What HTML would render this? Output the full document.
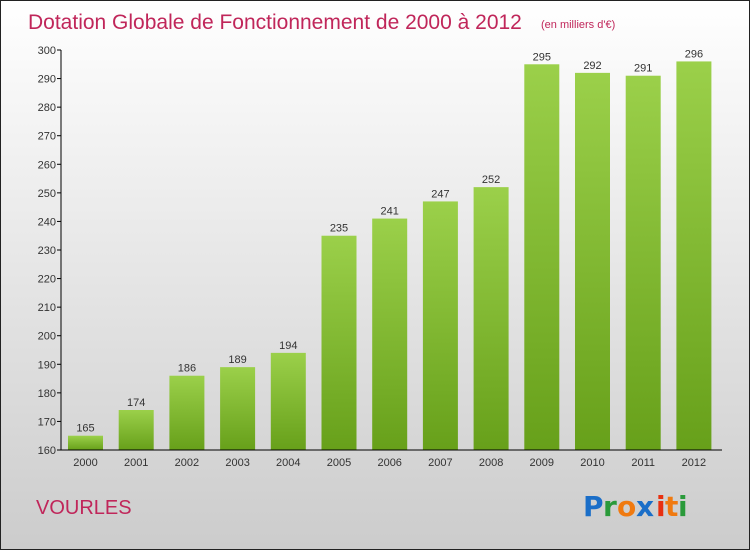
<!DOCTYPE html>
<html><head><meta charset="utf-8"><style>
html,body{margin:0;padding:0}
body{width:750px;height:550px;overflow:hidden;font-family:"Liberation Sans",sans-serif}
</style></head><body>
<svg id="c" width="750" height="550" xmlns="http://www.w3.org/2000/svg">
<defs>
<linearGradient id="bg" x1="0" y1="0" x2="0" y2="1"><stop offset="0" stop-color="#ffffff"/><stop offset="1" stop-color="#cccccc"/></linearGradient>
<linearGradient id="bar" x1="0" y1="0" x2="0" y2="1"><stop offset="0" stop-color="#9bd04a"/><stop offset="1" stop-color="#67a01a"/></linearGradient>
</defs>
<rect x="0.5" y="0.5" width="749" height="549" fill="url(#bg)" stroke="#222"/>
<text x="28" y="29" font-size="21" fill="#c0265a">Dotation Globale de Fonctionnement de 2000 à 2012</text>
<text x="541" y="28" font-size="11" fill="#c0265a">(en milliers d'€)</text>
<text x="36" y="514" font-size="20" fill="#c0265a">VOURLES</text>
<g font-size="28" font-weight="bold" font-family="'DejaVu Sans',sans-serif">
<text x="583" y="516" fill="#1a6ec8">P</text><text x="603" y="516" fill="#2a9a3a">r</text><text x="617" y="516" fill="#f07a10">o</text><text x="636" y="516" fill="#1a6ec8">x</text><text x="656" y="516" fill="#e83010">i</text><text x="665" y="516" fill="#f07a10">t</text><text x="678" y="516" fill="#2a9a3a">i</text>
</g>
<g id="plot"></g>
</svg>
<script>
const years=["2000","2001","2002","2003","2004","2005","2006","2007","2008","2009","2010","2011","2012"];
const values=[165,174,186,189,194,235,241,247,252,295,292,291,296];
const ticks=[160,170,180,190,200,210,220,230,240,250,260,270,280,290,300];
const ns="http://www.w3.org/2000/svg";
const g=document.getElementById('plot');
const yMin=160,yMax=300,plotTop=50,bot=450,axX=61;
const y=v=>bot-(v-yMin)/(yMax-yMin)*(bot-plotTop);
const xc=i=>85.5+i*50.7;
function mk(t,a){const e=document.createElementNS(ns,t);for(const k in a)e.setAttribute(k,a[k]);g.appendChild(e);return e;}
ticks.forEach(t=>{
 const l=mk('line',{x1:axX-4,x2:axX,y1:y(t),y2:y(t),stroke:'#000'});
 
 
 const tx=mk('text',{x:axX-5,y:y(t)+4,'font-size':11,'text-anchor':'end',fill:'#333'});
 tx.textContent=t;
 
 
});
values.forEach((v,i)=>{
 const r=mk('rect',{x:xc(i)-17.5,y:y(v),width:35,height:bot-y(v),fill:'url(#bar)'});
 
 
 const vl=mk('text',{x:xc(i),y:y(v)-4,'font-size':11,'text-anchor':'middle',fill:'#333'});
 vl.textContent=v;
 
 
 const xl=mk('text',{x:xc(i),y:bot+16,'font-size':11,'text-anchor':'middle',fill:'#333'});
 xl.textContent=years[i];
 
 
});
const ya=mk('line',{x1:axX,x2:axX,y1:plotTop,y2:bot,stroke:'#000'});


const xa=mk('line',{x1:axX,x2:722,y1:bot,y2:bot,stroke:'#000'});


</script>
</body></html>
